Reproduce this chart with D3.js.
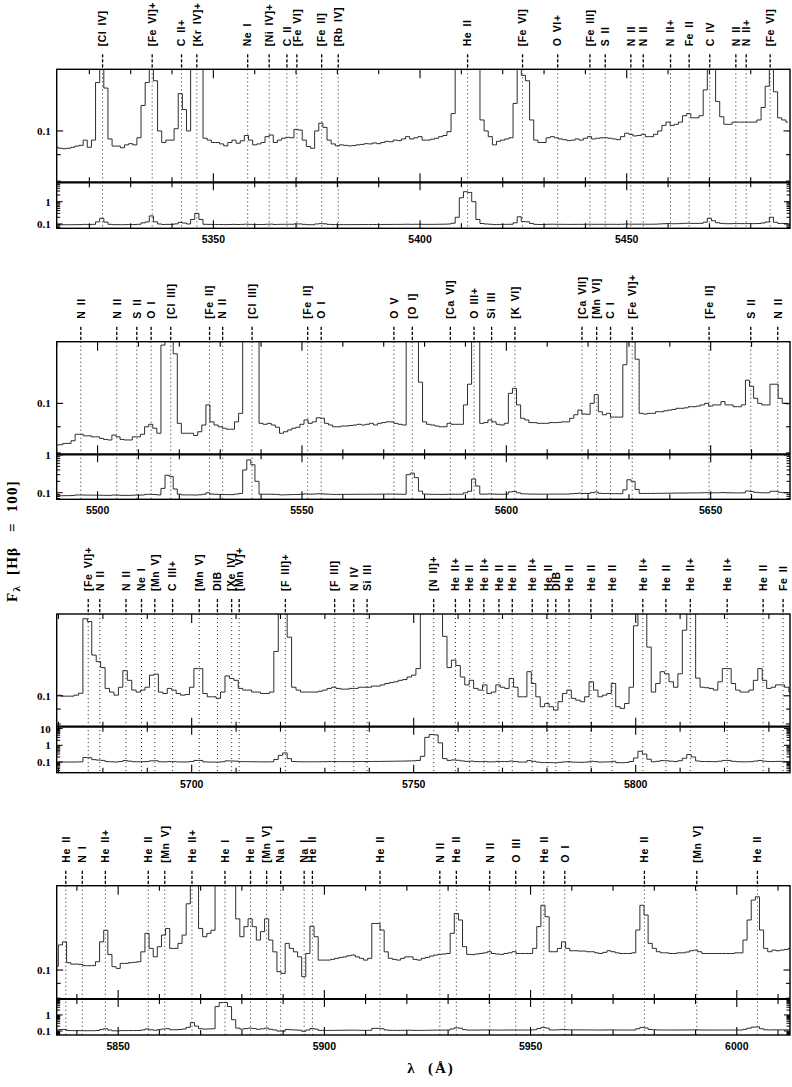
<!DOCTYPE html>
<html><head><meta charset="utf-8">
<script src="https://cdn.jsdelivr.net/npm/d3@7"></script>
<style>body{margin:0;background:#fff}</style>
</head><body>
<svg id="chart" width="792" height="1087"></svg>
<script>
// ---------------- DATA ----------------
// Flux in units of F(Hbeta)=100, one value per 1 Å bin, first bin centre = pNStart (Å)
const p1Start = 5312;
const p1Flux = [0.093,0.0926,0.0924,0.0926,0.093,0.0935,0.0938,0.096,0.093,0.096,
0.124,0.18,0.121,0.0965,0.0935,0.0935,0.0928,0.094,0.0945,0.094,
0.097,0.112,0.124,0.23,0.125,0.1,0.095,0.096,0.096,0.101,
0.118,0.11,0.1,0.16,0.3,0.16,0.0968,0.096,0.095,0.095,
0.0944,0.0936,0.095,0.096,0.0947,0.0957,0.098,0.096,0.094,0.0944,
0.095,0.0975,0.0982,0.095,0.096,0.0968,0.0972,0.097,0.1007,0.1004,
0.096,0.0933,0.0926,0.1,0.1035,0.1016,0.096,0.0944,0.0936,0.094,
0.0938,0.0936,0.0937,0.094,0.0942,0.0945,0.0944,0.0948,0.0945,0.095,
0.0955,0.0953,0.096,0.0958,0.0965,0.0975,0.0965,0.097,0.0975,0.096,
0.096,0.0964,0.0968,0.0975,0.098,0.0997,0.108,0.2,1.5,2.8,
2.6,1.0,0.16,0.105,0.1,0.0975,0.094,0.0955,0.096,0.0965,
0.097,0.113,0.21,0.128,0.125,0.105,0.096,0.095,0.095,0.097,
0.0975,0.097,0.0965,0.0962,0.0958,0.096,0.0965,0.096,0.0968,0.0975,
0.0965,0.0968,0.097,0.097,0.0968,0.0965,0.0962,0.0975,0.099,0.0985,
0.0978,0.098,0.0985,0.0975,0.0975,0.0985,0.1,0.1025,0.104,0.1025,
0.103,0.104,0.107,0.108,0.106,0.106,0.107,0.12,0.18,0.14,
0.114,0.1065,0.103,0.103,0.104,0.104,0.104,0.104,0.104,0.104,
0.105,0.111,0.122,0.2,0.119,0.106,0.105,0.104];
const p2Start = 5490;
const p2Flux = [0.0829,0.083,0.0835,0.0835,0.0845,0.087,0.087,0.0864,0.0864,0.086,
0.086,0.0854,0.085,0.0848,0.0867,0.086,0.085,0.0848,0.0848,0.086,
0.086,0.087,0.09,0.091,0.0894,0.0874,0.13,0.29,0.27,0.125,
0.0914,0.0874,0.0874,0.0874,0.0865,0.088,0.0907,0.0993,0.092,0.0907,
0.09,0.0894,0.089,0.089,0.092,0.0956,0.4,0.74,0.55,0.2,
0.0914,0.091,0.0914,0.0907,0.0898,0.0874,0.088,0.0887,0.0894,0.0898,
0.091,0.0928,0.0914,0.092,0.0937,0.0935,0.0914,0.0907,0.09,0.09,
0.0903,0.0903,0.0905,0.0907,0.091,0.0907,0.091,0.0914,0.0907,0.0914,
0.0917,0.092,0.092,0.0914,0.091,0.0907,0.3,0.33,0.25,0.11,
0.092,0.091,0.0907,0.0903,0.09,0.09,0.0914,0.091,0.091,0.091,
0.0993,0.109,0.23,0.15,0.0914,0.0917,0.0928,0.092,0.091,0.0907,
0.0914,0.1046,0.107,0.0993,0.0935,0.0928,0.0917,0.0917,0.0914,0.0914,
0.0914,0.0917,0.0917,0.0918,0.092,0.092,0.0935,0.095,0.097,0.0953,
0.0952,0.1,0.104,0.0963,0.095,0.0956,0.094,0.094,0.094,0.119,
0.22,0.2,0.122,0.0956,0.0953,0.0956,0.0956,0.0963,0.0963,0.0967,
0.097,0.0973,0.0978,0.0978,0.098,0.0985,0.0985,0.0988,0.0993,0.1,
0.0988,0.0993,0.0993,0.1008,0.0993,0.0993,0.0985,0.0985,0.0993,0.111,
0.108,0.1023,0.1,0.0993,0.0993,0.109,0.109,0.1023,0.1,0.0997];
const p3Start = 5670;
const p3Flux = [0.1005,0.0997,0.0997,0.0997,0.1005,0.102,0.184,0.18,0.138,0.131,
0.125,0.106,0.103,0.1005,0.107,0.122,0.113,0.1046,0.103,0.1046,
0.107,0.1177,0.1187,0.103,0.1018,0.106,0.1046,0.1018,0.1005,0.101,
0.107,0.124,0.124,0.1018,0.0992,0.0992,0.098,0.103,0.117,0.1147,
0.113,0.106,0.1046,0.1046,0.103,0.103,0.1018,0.1018,0.103,0.142,
0.25,0.35,0.159,0.107,0.1046,0.103,0.103,0.103,0.103,0.1037,
0.1046,0.106,0.107,0.106,0.1054,0.1054,0.106,0.106,0.107,0.107,
0.107,0.108,0.108,0.109,0.1102,0.111,0.1117,0.113,0.1137,0.116,
0.1177,0.124,0.22,3.0,4.4,4.2,1.4,0.16,0.125,0.1326,
0.127,0.116,0.109,0.113,0.106,0.1046,0.109,0.1018,0.103,0.109,
0.107,0.106,0.1147,0.107,0.0992,0.0992,0.121,0.1102,0.0992,0.0917,
0.094,0.0917,0.0893,0.0954,0.1018,0.1046,0.098,0.0966,0.0954,0.0992,
0.1117,0.1046,0.0992,0.1005,0.1018,0.1102,0.0917,0.0905,0.0941,0.107,
0.174,0.44,0.3,0.147,0.103,0.1102,0.121,0.119,0.1117,0.107,
0.119,0.168,0.28,0.2,0.115,0.107,0.1066,0.106,0.1046,0.1117,
0.124,0.124,0.1102,0.1046,0.103,0.103,0.1046,0.113,0.124,0.113,
0.106,0.107,0.109,0.109,0.107,0.103];
const p4Start = 5835;
const p4Flux = [0.103,0.122,0.125,0.106,0.1048,0.1048,0.1045,0.1035,0.1035,0.1035,
0.1068,0.125,0.137,0.113,0.1027,0.1013,0.1054,0.1054,0.106,0.1063,
0.1068,0.1155,0.1337,0.1187,0.111,0.1203,0.1319,0.139,0.1187,0.1187,
0.1235,0.1319,0.169,0.33,0.2,0.139,0.1302,0.1337,0.137,3.3,
5.9,5.9,3.3,0.5,0.15,0.1302,0.141,0.15,0.141,0.1268,
0.1355,0.15,0.1268,0.1155,0.0987,0.0974,0.1235,0.1187,0.1155,0.111,
0.0949,0.114,0.1415,0.1302,0.1082,0.1082,0.1082,0.1088,0.1097,0.1105,
0.111,0.112,0.1126,0.111,0.1097,0.1082,0.1097,0.1446,0.1446,0.1373,
0.1155,0.1097,0.1088,0.1082,0.1097,0.111,0.111,0.1088,0.1082,0.1097,
0.1105,0.1117,0.1126,0.1132,0.1135,0.114,0.1337,0.1565,0.1486,0.1203,
0.1132,0.113,0.1135,0.114,0.1146,0.1156,0.114,0.1135,0.1132,0.114,
0.1146,0.1156,0.114,0.114,0.114,0.114,0.1187,0.141,0.167,0.1525,
0.1156,0.1156,0.1187,0.125,0.1187,0.1165,0.1165,0.1162,0.1162,0.1156,
0.1156,0.1146,0.114,0.115,0.1165,0.1156,0.1146,0.114,0.114,0.114,
0.1146,0.1373,0.167,0.1546,0.1235,0.1187,0.1156,0.1146,0.1146,0.114,
0.114,0.1146,0.1146,0.1153,0.1165,0.1171,0.1156,0.114,0.114,0.114,
0.114,0.114,0.114,0.114,0.114,0.1146,0.1146,0.1268,0.1486,0.174,
0.1786,0.1373,0.1187,0.1156,0.1171,0.1165,0.1171,0.1177,0.1187];

// Line identifications (wavelength in Å, label)
const p1LineWave = [5323.2,5335.2,5342.3,5346.0,5358.3,5363.5,5367.8,5370.2,5376.2,5380.2,5411.5,5424.8,5433.3,5441.1,5444.8,5451.0,5454.0,5460.6,5465.1,5470.1,5476.4,5478.9,5484.7];
const p1LineName = ["[Cl IV]","[Fe VI]+","C II+","[Kr IV]+","Ne I","[Ni IV]+","C II","[Fe VI]","[Fe II]","[Rb IV]","He II","[Fe VI]","O VI+","[Fe III]","S II","N II","N II","N II+","Fe II","C IV","N II","N II+","[Fe VI]"];
const p2LineWave = [5495.9,5504.7,5509.6,5513.1,5517.9,5527.4,5530.6,5537.8,5551.4,5554.7,5572.5,5577.0,5586.3,5592.1,5596.4,5602.1,5618.5,5622.1,5625.5,5630.8,5649.6,5659.8,5666.4];
const p2LineName = ["N II","N II","S II","O I","[Cl III]","[Fe II]","N II","[Cl III]","[Fe II]","O I","O V","[O I]","[Ca VI]","O III+","Si III","[K VI]","[Ca VII]","[Mn VI]","C I","[Fe VI]+","[Fe II]","S II","N II"];
const p3LineWave = [5676.7,5679.3,5685.2,5688.7,5691.7,5695.7,5701.7,5705.8,5709.0,5710.7,5721.1,5732.2,5736.5,5739.5,5754.5,5759.4,5762.6,5765.8,5769.2,5772.2,5776.7,5780.2,5782.0,5785.0,5789.9,5794.7,5801.6,5806.8,5812.3,5820.6,5828.7,5833.2];
const p3LineName = ["[Fe VI]+","N II","N II","Ne I","[Mn V]","C III+","[Mn V]","DIB","[Xe IV]","[Mn V]+","[F III]+","[F III]","N IV","Si III","[N II]+","He II+","He II","He II+","He II","He II","He II+","He II","DIB","He II","He II","He II","He II+","He II","He II+","He II+","He II","Fe II"];
const p4LineWave = [5837.3,5841.3,5846.9,5857.3,5861.3,5867.9,5875.9,5882.1,5886.0,5889.4,5895.1,5897.1,5913.5,5928.0,5932.0,5940.1,5946.4,5953.2,5958.3,5977.6,5990.3,6005.0];
const p4LineName = ["He II","N I","He II+","He II","[Mn V]","He II+","He I","He II","[Mn V]","Na I","Na I","He II","He II","N II","He II","N II","O III","He II","O I","He II","[Mn V]","He II"];

// Axis ranges and tick labels
const p1Range = [5312.1, 5489.5], p2Range = [5490.0, 5669.4], p3Range = [5669.6, 5834.75], p4Range = [5835.1, 6012.9];
const p1TickLabels = [5350,5400,5450];
const p2TickLabels = [5500,5550,5600,5650];
const p3TickLabels = [5700,5750,5800];
const p4TickLabels = [5850,5900,5950,6000];
const p1UpperRange = [0.0796, 0.1315], p2UpperRange = [0.0795, 0.132], p3UpperRange = [0.0783, 0.191], p4UpperRange = [0.0795, 0.195];
const p1LowerRange = [0.064, 7.4], p2LowerRange = [0.0668, 1.04], p3LowerRange = [0.0229, 13], p4LowerRange = [0.056, 9.8];
const upperTickLabels = [0.1];
const p1LowerLabels = [1, 0.1], p2LowerLabels = [1, 0.1], p3LowerLabels = [10, 1, 0.1], p4LowerLabels = [1, 0.1];

// ---------------- LAYOUT ----------------
const X0 = 56.7, X1 = 790;
const panels = [
  {start:p1Start, flux:p1Flux, lw:p1LineWave, ln:p1LineName, xr:p1Range, xt:p1TickLabels, ur:p1UpperRange, lr:p1LowerRange, ll:p1LowerLabels, top:69.3, sep:182.3, bottom:228.3},
  {start:p2Start, flux:p2Flux, lw:p2LineWave, ln:p2LineName, xr:p2Range, xt:p2TickLabels, ur:p2UpperRange, lr:p2LowerRange, ll:p2LowerLabels, top:341.7, sep:454.3, bottom:499.3},
  {start:p3Start, flux:p3Flux, lw:p3LineWave, ln:p3LineName, xr:p3Range, xt:p3TickLabels, ur:p3UpperRange, lr:p3LowerRange, ll:p3LowerLabels, top:614, sep:726.7, bottom:772.7},
  {start:p4Start, flux:p4Flux, lw:p4LineWave, ln:p4LineName, xr:p4Range, xt:p4TickLabels, ur:p4UpperRange, lr:p4LowerRange, ll:p4LowerLabels, top:885.7, sep:999, bottom:1035}
];

const svg = d3.select("#chart");
svg.append("rect").attr("width",792).attr("height",1087).attr("fill","#fff");
const defs = svg.append("defs");

function logTicks(dom){
  const out = [];
  [0.001,0.01,0.1,1,10].forEach(d=>{
    for(let k=1;k<=9;k++){ const v=+(k*d).toPrecision(3); if(v>=dom[0] && v<=dom[1]) out.push({v, major:k===1}); }
  });
  return out;
}

panels.forEach((P,pi)=>{
  const g = svg.append("g");
  const xs = d3.scaleLinear().domain(P.xr).range([X0, X1]);
  const yu = d3.scaleLog().domain(P.ur).range([P.sep, P.top]);
  const yl = d3.scaleLog().domain(P.lr).range([P.bottom, P.sep]);
  const data = P.flux.map((f,i)=>({w:P.start+i, f}));

  ["u","l"].forEach(k=>{
    const y0 = k==="u"?P.top:P.sep, y1 = k==="u"?P.sep:P.bottom;
    defs.append("clipPath").attr("id",`c${pi}${k}`).append("rect")
      .attr("x",X0).attr("y",y0).attr("width",X1-X0).attr("height",y1-y0);
  });

  // dotted identification lines and dashed ticks above
  P.lw.forEach((w,i)=>{
    const x = xs(w);
    g.append("line").attr("x1",x).attr("x2",x).attr("y1",P.top).attr("y2",P.bottom)
      .attr("stroke","#000").attr("stroke-width",0.8).attr("stroke-dasharray","1.1,2.9");
    g.append("line").attr("x1",x).attr("x2",x).attr("y1",P.top-15).attr("y2",P.top-1.5)
      .attr("stroke","#000").attr("stroke-width",1.3).attr("stroke-dasharray","3.2,1.8");
    g.append("text").attr("transform",`translate(${x+3.8},${P.top-23}) rotate(-90)`)
      .attr("text-anchor","start")
      .attr("font-family","'Liberation Sans', Arial, sans-serif").attr("font-weight","bold")
      .attr("font-size",10.5).attr("letter-spacing",0.5).attr("word-spacing",2)
      .text(P.ln[i]);
  });

  const line = (ys)=>d3.line().x(d=>xs(d.w)).y(d=>ys(d.f)).curve(d3.curveStep);
  g.append("path").datum(data).attr("d",line(yu)).attr("clip-path",`url(#c${pi}u)`)
    .attr("fill","none").attr("stroke","#222").attr("stroke-width",0.95);
  g.append("path").datum(data).attr("d",line(yl)).attr("clip-path",`url(#c${pi}l)`)
    .attr("fill","none").attr("stroke","#222").attr("stroke-width",0.95);

  // frames
  g.append("rect").attr("x",X0).attr("y",P.top).attr("width",X1-X0).attr("height",P.bottom-P.top)
    .attr("fill","none").attr("stroke","#000").attr("stroke-width",1.4);
  g.append("line").attr("x1",X0).attr("x2",X1).attr("y1",P.sep).attr("y2",P.sep)
    .attr("stroke","#000").attr("stroke-width",2.2);

  const tk = (x1,y1,x2,y2,w)=>g.append("line").attr("x1",x1).attr("y1",y1).attr("x2",x2).attr("y2",y2)
      .attr("stroke","#000").attr("stroke-width",w||1.1);

  // x ticks every 10 Å, major at labelled values
  d3.range(Math.ceil(P.xr[0]/10)*10, P.xr[1], 10).forEach(v=>{
    const x = xs(v), maj = P.xt.includes(v);
    const a = maj?9:5, b = maj?8:5;
    tk(x,P.top,x,P.top+a); tk(x,P.sep-a,x,P.sep); tk(x,P.sep,x,P.sep+b); tk(x,P.bottom-b,x,P.bottom);
  });
  P.xt.forEach(v=>{
    g.append("text").attr("x",xs(v)).attr("y",P.bottom+15).attr("text-anchor","middle")
      .attr("font-family","'Liberation Sans', Arial, sans-serif").attr("font-weight","bold")
      .attr("font-size",10.5).text(v);
  });

  // y ticks upper
  logTicks(P.ur).forEach(t=>{
    const y = yu(t.v), l = t.major?6.5:4;
    tk(X0,y,X0+l,y); tk(X1-l,y,X1,y);
  });
  upperTickLabels.filter(v=>v>=P.ur[0]&&v<=P.ur[1]).forEach(v=>{
    g.append("text").attr("x",X0-6).attr("y",yu(v)+4).attr("text-anchor","end")
      .attr("font-family","'Liberation Serif', 'Times New Roman', serif").attr("font-weight","bold")
      .attr("font-size",11).text(v);
  });
  // y ticks lower
  logTicks(P.lr).forEach(t=>{
    const y = yl(t.v), l = t.major?6:3.5;
    tk(X0,y,X0+l,y,1); tk(X1-l,y,X1,y,1);
  });
  P.ll.forEach(v=>{
    g.append("text").attr("x",X0-6).attr("y",yl(v)+4).attr("text-anchor","end")
      .attr("font-family","'Liberation Serif', 'Times New Roman', serif").attr("font-weight","bold")
      .attr("font-size",11).text(v);
  });
});

// axis titles
const yt = svg.append("text").attr("transform","translate(17,541) rotate(-90)")
  .attr("text-anchor","middle").attr("xml:space","preserve").style("white-space","pre")
  .attr("font-family","'Liberation Serif', 'Times New Roman', serif").attr("font-weight","bold")
  .attr("font-size",15).attr("letter-spacing",1.2);
yt.append("tspan").text("F");
yt.append("tspan").attr("dy",3).attr("font-size",11).text("λ");
yt.append("tspan").attr("dy",-3).text("  [H");
yt.append("tspan").text("β");
yt.append("tspan").text("   =  100]");

svg.append("text").attr("x",431).attr("y",1073).attr("text-anchor","middle")
  .attr("xml:space","preserve").style("white-space","pre")
  .attr("font-family","'Liberation Serif', 'Times New Roman', serif").attr("font-weight","bold")
  .attr("font-size",15).attr("letter-spacing",2).text("λ  (Å)");
</script>
</body></html>
